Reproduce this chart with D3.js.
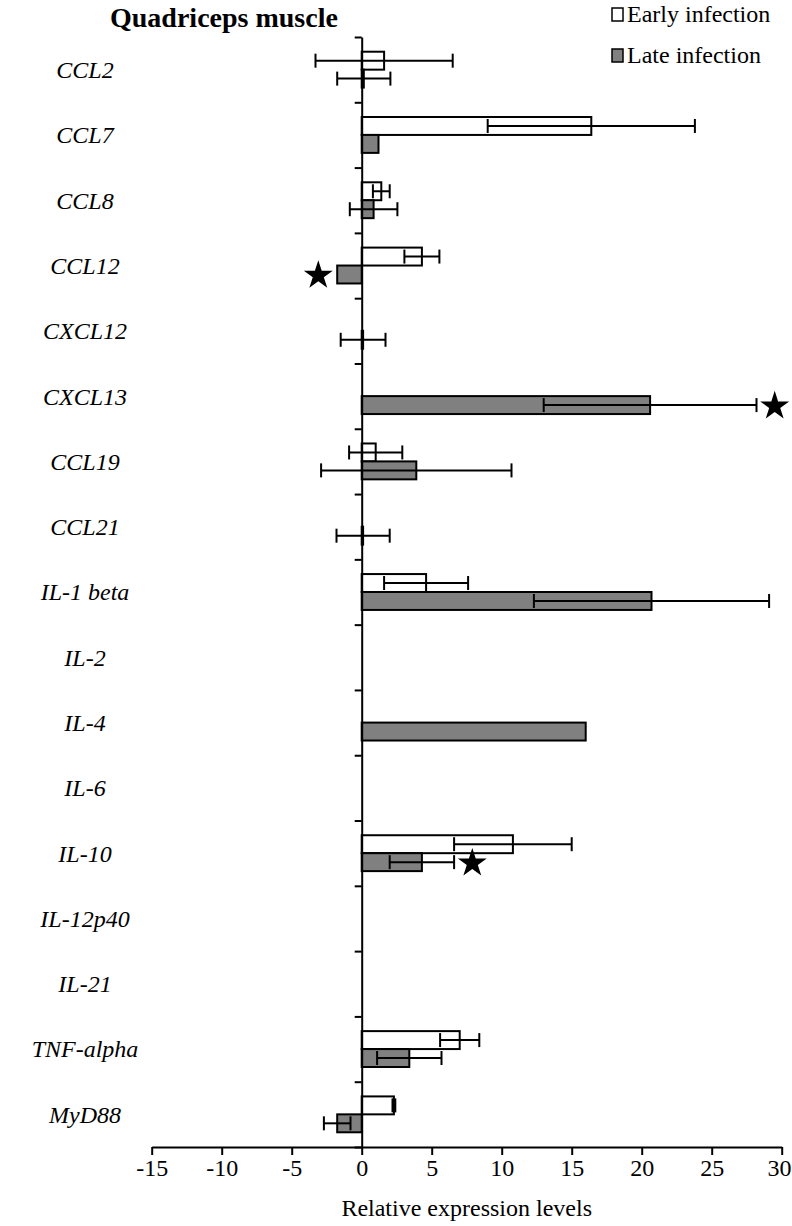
<!DOCTYPE html>
<html>
<head>
<meta charset="utf-8">
<script src="https://cdn.jsdelivr.net/npm/d3@7"></script>
<style>
  body { margin: 0; background: #fff; }
</style>
</head>
<body>
<script>
// genes, top to bottom
const genes = ['CCL2', 'CCL7', 'CCL8', 'CCL12', 'CXCL12', 'CXCL13', 'CCL19', 'CCL21',
  'IL-1 beta', 'IL-2', 'IL-4', 'IL-6', 'IL-10', 'IL-12p40', 'IL-21', 'TNF-alpha', 'MyD88']

const seriesNames = ['Early infection', 'Late infection']
const seriesFill = ['#ffffff', '#808080']

const early = [1.6, 16.4, 1.4, 4.3, 0, 0, 1.0, 0, 4.6, 0, 0, 0, 10.8, 0, 0, 7.0, 2.3]
const earlyErr = [4.9, 7.4, 0.6, 1.25, 0, 0, 1.9, 0, 3.0, 0, 0, 0, 4.2, 0, 0, 1.4, 0.1]
const late = [0.15, 1.2, 0.85, -1.75, 0.1, 20.6, 3.9, 0.1, 20.7, 0, 16.0, 0, 4.3, 0, 0, 3.4, -1.75]
const lateErr = [1.9, 0, 1.7, 0, 1.6, 7.6, 6.8, 1.9, 8.4, 0, 0, 0, 2.3, 0, 0, 2.3, 0.95]

// significance stars (next to the late infection bar)
const starGenes = ['CCL12', 'CXCL13', 'IL-10']
const starX = [-3.1, 29.5, 7.9]

const xTicks = [-15, -10, -5, 0, 5, 10, 15, 20, 25, 30]

const serif = '"Liberation Serif", "Times New Roman", Times, serif'

const width = 792
const height = 1226
const plotLeft = 151.7
const plotRight = 781.7
const plotTop = 37
const plotBottom = 1147

const svg = d3.select('body')
  .append('svg')
  .attr('width', width)
  .attr('height', height)
  .style('font-family', serif)

// scales
const x = d3.scaleLinear()
  .domain([-15, 30])
  .range([plotLeft, plotRight])

const y = d3.scaleBand()
  .domain(genes)
  .range([plotTop, plotBottom])

const ySeries = d3.scaleBand()
  .domain([0, 1])
  .range([0, y.bandwidth()])
  .paddingOuter(0.82)

// edges of the gene bands, for the small ticks on the zero line
const yEdge = d3.scaleLinear()
  .domain([0, genes.length])
  .range([plotTop, plotBottom])

// bars + error bars, one series after the other
const values = [early, late]
const errors = [earlyErr, lateErr]

values.forEach(function(vals, s) {
  const rows = genes.map((g, i) => ({ gene: g, v: vals[i], e: errors[s][i] }))

  svg.append('g')
    .selectAll('rect')
    .data(rows.filter(d => d.v !== 0))
    .enter()
    .append('rect')
    .attr('x', d => x(Math.min(0, d.v)))
    .attr('y', d => y(d.gene) + ySeries(s))
    .attr('width', d => Math.abs(x(d.v) - x(0)))
    .attr('height', ySeries.bandwidth())
    .attr('fill', seriesFill[s])
    .attr('stroke', '#000')
    .attr('stroke-width', 2)

  const err = svg.append('g')
    .selectAll('g')
    .data(rows.filter(d => d.e > 0))
    .enter()
    .append('g')
    .attr('transform', d => `translate(0, ${y(d.gene) + ySeries(s) + ySeries.bandwidth() / 2})`)
    .attr('stroke', '#000')
    .attr('stroke-width', 2)

  err.append('line')
    .attr('x1', d => x(d.v - d.e))
    .attr('x2', d => x(d.v + d.e))

  err.selectAll('.cap')
    .data(d => [d.v - d.e, d.v + d.e])
    .enter()
    .append('line')
    .attr('class', 'cap')
    .attr('x1', d => x(d))
    .attr('x2', d => x(d))
    .attr('y1', -7)
    .attr('y2', 7)
})

// x axis
const xAxis = d3.axisBottom(x)
  .tickValues(xTicks)
  .tickFormat(d => String(d))
  .tickSize(8)
  .tickSizeOuter(0)

const gx = svg.append('g')
  .attr('transform', `translate(0, ${plotBottom})`)
  .call(xAxis)
  .attr('font-family', serif)

gx.select('.domain').attr('stroke-width', 2)
gx.selectAll('.tick line').attr('stroke-width', 2)
gx.selectAll('.tick text')
  .attr('font-family', serif)
  .attr('font-size', 24)
  .attr('fill', '#000')
  .attr('y', 10)
  .attr('dy', '0.8em')

// last label sits on the page edge, keep it inside
gx.selectAll('.tick text')
  .filter(d => d === xTicks[xTicks.length - 1])
  .attr('text-anchor', 'end')
  .attr('x', width - 1 - x(xTicks[xTicks.length - 1]))

// y axis on the zero line
const yAxis = d3.axisLeft(yEdge)
  .tickValues(d3.range(genes.length + 1))
  .tickFormat('')
  .tickSize(7)
  .tickSizeOuter(0)

const gy = svg.append('g')
  .attr('transform', `translate(${x(0)}, 0)`)
  .call(yAxis)

gy.select('.domain').attr('stroke-width', 2)
gy.selectAll('.tick line').attr('stroke-width', 2)

// gene labels
svg.append('g')
  .selectAll('text')
  .data(genes)
  .enter()
  .append('text')
  .attr('x', 85)
  .attr('y', d => y(d) + y.bandwidth() / 2)
  .attr('dy', '0.35em')
  .attr('text-anchor', 'middle')
  .attr('font-family', serif)
  .attr('font-style', 'italic')
  .attr('font-size', 24)
  .text(d => d)

// stars
const star = d3.symbol().type(d3.symbolStar).size(260)

svg.append('g')
  .selectAll('path')
  .data(starGenes)
  .enter()
  .append('path')
  .attr('d', star)
  .attr('transform', (d, i) => `translate(${x(starX[i])}, ${y(d) + ySeries(1) + ySeries.bandwidth() / 2 + 1})`)
  .attr('fill', '#000')

// axis title
svg.append('text')
  .attr('x', x(7.5))
  .attr('y', 1216)
  .attr('text-anchor', 'middle')
  .attr('font-family', serif)
  .attr('font-size', 24)
  .text('Relative expression levels')

// chart title
svg.append('text')
  .attr('x', 110)
  .attr('y', 27)
  .attr('font-family', serif)
  .attr('font-weight', 'bold')
  .attr('font-size', 28)
  .text('Quadriceps muscle')

// legend
const legend = svg.append('g')
  .selectAll('g')
  .data(seriesNames)
  .enter()
  .append('g')
  .attr('transform', (d, i) => `translate(612, ${14 + i * 41})`)

legend.append('rect')
  .attr('x', 0)
  .attr('y', -6)
  .attr('width', 11)
  .attr('height', 13)
  .attr('fill', (d, i) => seriesFill[i])
  .attr('stroke', '#000')
  .attr('stroke-width', 1.5)

legend.append('text')
  .attr('x', 15)
  .attr('dy', '0.35em')
  .attr('font-family', serif)
  .attr('font-size', 24)
  .text(d => d)
</script>
</body>
</html>
